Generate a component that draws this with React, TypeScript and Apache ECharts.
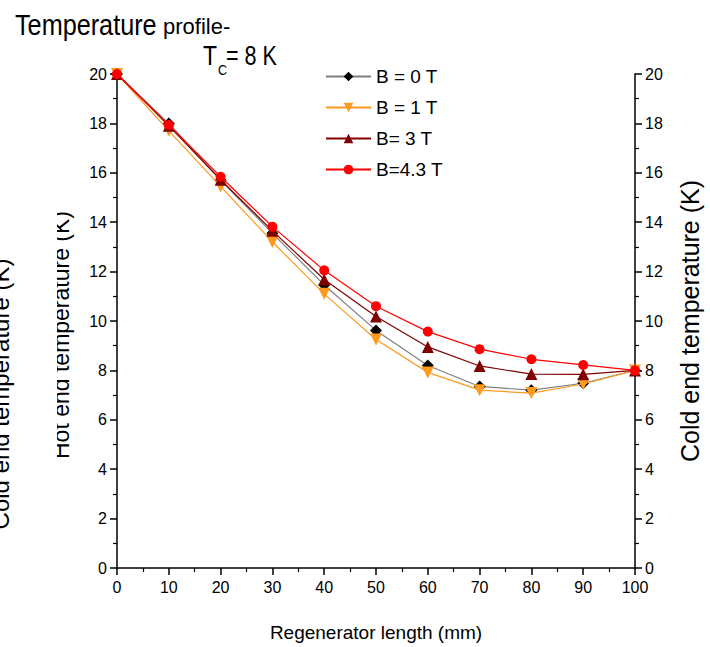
import React, { useEffect, useRef } from "react";
import * as echarts from "echarts";

const xValues = [0, 10, 20, 30, 40, 50, 60, 70, 80, 90, 100];
const b0 = [20, 18.0, 15.7, 13.55, 11.46, 9.62, 8.2, 7.35, 7.2, 7.48, 8.0];
const b1 = [20, 17.7, 15.45, 13.2, 11.1, 9.25, 7.92, 7.2, 7.08, 7.45, 8.0];
const b3 = [20, 17.9, 15.72, 13.65, 11.68, 10.18, 8.95, 8.18, 7.85, 7.84, 8.0];
const b43 = [20, 17.94, 15.84, 13.82, 12.05, 10.6, 9.57, 8.86, 8.45, 8.22, 8.0];
const seriesNames = ["B = 0 T", "B = 1 T", "B= 3 T", "B=4.3 T"];

const FONT = "'Liberation Sans Narrow', 'Arial Narrow', 'Liberation Sans', Arial, sans-serif";

const pairs = (ys: number[]) => xValues.map((x, i) => [x, ys[i]]);

export default function App() {
  const ref = useRef<HTMLDivElement>(null);
  useEffect(() => {
    if (!ref.current) return;
    const chart = echarts.init(ref.current, null, { renderer: "svg" });
    const axisCommon = {
      type: "value" as const,
      min: 0,
      max: 20,
      interval: 2,
      axisLine: { show: true, lineStyle: { color: "#000", width: 1.5 } },
      axisTick: { show: true, inside: false, length: 7, lineStyle: { color: "#000", width: 1.5 } },
      minorTick: { show: true, splitNumber: 2, length: 4, lineStyle: { color: "#000", width: 1.2 } },
      splitLine: { show: false },
      axisLabel: { color: "#000", fontSize: 16, fontFamily: FONT, margin: 10 },
    };
    chart.setOption({
      animation: false,
      backgroundColor: "#fff",
      textStyle: { fontFamily: FONT },
      grid: { left: 117, right: 74, top: 74, bottom: 79, containLabel: false },
      legend: {
        orient: "vertical",
        left: 325,
        top: 66,
        padding: 0,
        itemWidth: 45,
        itemHeight: 12,
        itemGap: 10,
        textStyle: { fontSize: 19, fontFamily: FONT, color: "#000", lineHeight: 21 },
        data: seriesNames,
      },
      xAxis: {
        type: "value",
        min: 0,
        max: 100,
        interval: 10,
        name: "Regenerator length (mm)",
        nameLocation: "middle",
        nameGap: 55,
        nameTextStyle: { fontSize: 19, fontFamily: FONT, color: "#000" },
        axisLine: { show: true, onZero: false, lineStyle: { color: "#000", width: 1.5 } },
        axisTick: { show: true, length: 7, lineStyle: { color: "#000", width: 1.5 } },
        minorTick: { show: true, splitNumber: 2, length: 4, lineStyle: { color: "#000", width: 1.2 } },
        splitLine: { show: false },
        axisLabel: { color: "#000", fontSize: 16, fontFamily: FONT, margin: 11 },
      },
      yAxis: [
        { ...axisCommon, position: "left" },
        {
          ...axisCommon,
          position: "right",
          name: "Cold end temperature (K)",
          nameLocation: "middle",
          nameGap: 42,
          nameRotate: 90,
          nameTextStyle: { fontSize: 25, fontFamily: FONT, color: "#000" },
        },
      ],
      series: [
        {
          name: seriesNames[0],
          type: "line",
          data: pairs(b0),
          symbol: "diamond",
          symbolSize: 12,
          itemStyle: { color: "#000" },
          lineStyle: { color: "#7f7f7f", width: 1.2 },
          z: 2,
        },
        {
          name: seriesNames[1],
          type: "line",
          data: pairs(b1),
          symbol: "triangle",
          symbolRotate: 180,
          symbolSize: 12,
          itemStyle: { color: "#ff9a1f" },
          lineStyle: { color: "#ff9a1f", width: 1.2 },
          z: 3,
        },
        {
          name: seriesNames[2],
          type: "line",
          data: pairs(b3),
          symbol: "triangle",
          symbolSize: 12,
          itemStyle: { color: "#800000" },
          lineStyle: { color: "#800000", width: 1.2 },
          z: 4,
        },
        {
          name: seriesNames[3],
          type: "line",
          data: pairs(b43),
          symbol: "circle",
          symbolSize: 10,
          itemStyle: { color: "#ff0000" },
          lineStyle: { color: "#ff0000", width: 1.2 },
          z: 5,
        },
      ],
      graphic: [
        {
          type: "text",
          x: 15,
          y: 39,
          scaleX: 0.87,
          style: {
            text: "Temperature",
            fontSize: 29,
            fontFamily: FONT,
            fill: "#000",
            verticalAlign: "bottom",
          },
        },
        {
          type: "text",
          x: 163,
          y: 37,
          style: {
            text: "profile-",
            fontSize: 22,
            fontFamily: FONT,
            fill: "#000",
            verticalAlign: "bottom",
          },
        },
        {
          type: "text",
          x: 203,
          y: 42,
          scaleX: 0.85,
          style: { text: "T", fontSize: 27, fontFamily: FONT, fill: "#000", verticalAlign: "top" },
        },
        {
          type: "text",
          x: 218,
          y: 63,
          scaleX: 0.9,
          style: { text: "C", fontSize: 14, fontFamily: FONT, fill: "#000", verticalAlign: "top" },
        },
        {
          type: "text",
          x: 226,
          y: 42,
          scaleX: 0.8,
          style: { text: "= 8 K", fontSize: 27, fontFamily: FONT, fill: "#000", verticalAlign: "top" },
        },
        {
          type: "text",
          x: 61,
          y: 335,
          rotation: Math.PI / 2,
          style: {
            text: "Hot end temperature (K)",
            fontSize: 23,
            fontFamily: FONT,
            fill: "#000",
            align: "center",
            verticalAlign: "middle",
          },
        },
        {
          type: "rect",
          shape: { x: 18, y: 150, width: 39, height: 400 },
          style: { fill: "#fff" },
          z: 100,
        },
        {
          type: "text",
          x: 0,
          y: 394,
          rotation: Math.PI / 2,
          style: {
            text: "Cold end temperature (K)",
            fontSize: 24,
            fontFamily: FONT,
            fill: "#000",
            align: "center",
            verticalAlign: "middle",
          },
        },
      ],
    });
    return () => chart.dispose();
  }, []);
  return (
    <div
      ref={ref}
      style={{ position: "absolute", left: 0, top: 0, width: 710, height: 647 }}
    />
  );
}
